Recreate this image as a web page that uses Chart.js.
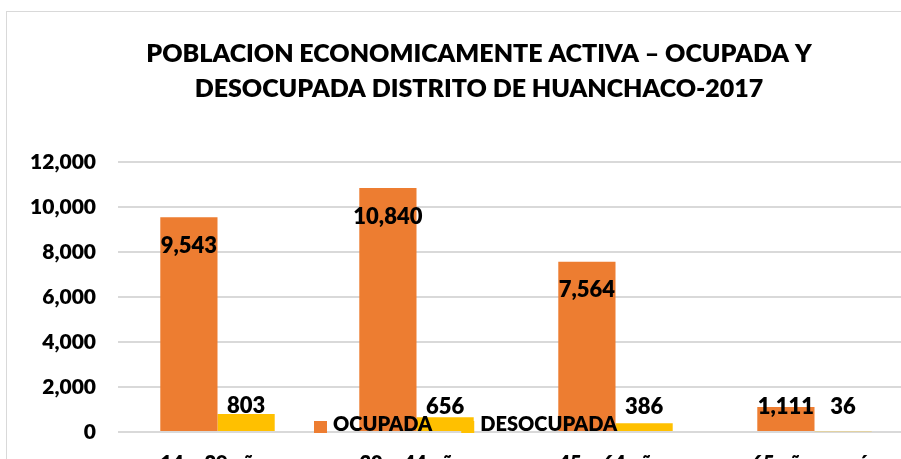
<!DOCTYPE html>
<html>
<head>
<meta charset="utf-8">
<script src="https://cdn.jsdelivr.net/npm/chart.js"></script>
<style>
body { margin: 0; overflow: hidden; background: #fff; }
#wrap { position: absolute; left: 6px; top: 11px; width: 944px; height: 500px; border: 1px solid #d9d9d9; }
</style>
</head>
<body>
<div id="wrap"><canvas id="pea" width="944" height="500"></canvas></div>
<script>
const titleLines = ['POBLACION ECONOMICAMENTE ACTIVA – OCUPADA Y', 'DESOCUPADA DISTRITO DE HUANCHACO-2017'];
const ageGroups = ['14 – 29 años', '30 – 44 años', '45 – 64 años', '65 años a más'];
const ocupada = [9543, 10840, 7564, 1111];
const desocupada = [803, 656, 386, 36];
const seriesNames = ['OCUPADA', 'DESOCUPADA'];
const yTicks = [0, 2000, 4000, 6000, 8000, 10000, 12000];

const fontFam = 'Lato, "Open Sans", sans-serif';
const heavy = '800';
const fmt = v => v.toLocaleString('en-US');

// value labels: ocupada inside the top, desocupada above
const valueLabels = {
  id: 'valueLabels',
  afterDatasetsDraw(chart) {
    const ctx = chart.ctx;
    const y = chart.scales.y;
    const floor = y.getPixelForValue(1100);
    ctx.save();
    ctx.font = heavy + ' 22px ' + fontFam;
    ctx.fillStyle = '#000';
    ctx.textAlign = 'center';
    ctx.textBaseline = 'middle';
    chart.data.datasets.forEach((ds, i) => {
      chart.getDatasetMeta(i).data.forEach((bar, j) => {
        const ly = i === 0 ? Math.min(bar.y + 28.5, floor) : Math.min(bar.y - 8, floor);
        ctx.fillText(fmt(ds.data[j]), bar.x, ly);
      });
    });
    ctx.restore();
  }
};

// legend sits over the bars near the baseline, like the original
const lowLegend = {
  id: 'lowLegend',
  afterDatasetsDraw(chart) {
    const ctx = chart.ctx;
    const base = chart.scales.y.getPixelForValue(0);
    ctx.save();
    ctx.font = heavy + ' 20px ' + fontFam;
    ctx.textBaseline = 'middle';
    let x = 307;
    chart.data.datasets.forEach(ds => {
      ctx.fillStyle = ds.backgroundColor;
      ctx.fillRect(x, base - 11, 13, 12);
      ctx.fillStyle = '#000';
      ctx.fillText(ds.label, x + 19, base - 7);
      x += 19 + ctx.measureText(ds.label).width + 29;
    });
    ctx.restore();
  }
};

new Chart(document.getElementById('pea'), {
  type: 'bar',
  data: {
    labels: ageGroups,
    datasets: [
      { label: seriesNames[0], data: ocupada, backgroundColor: '#ED7D31' },
      { label: seriesNames[1], data: desocupada, backgroundColor: '#FFC000' }
    ]
  },
  options: {
    responsive: false,
    animation: false,
    categoryPercentage: 0.575,
    barPercentage: 1,
    layout: { padding: { left: 0, right: 0, top: 0, bottom: 30 } },
    plugins: {
      legend: { display: false },
      tooltip: { enabled: false },
      title: {
        display: true,
        text: titleLines,
        color: '#000',
        font: { family: fontFam, size: 25, weight: heavy, lineHeight: 1.4 },
        padding: { top: 24, bottom: 56 }
      }
    },
    scales: {
      x: {
        grid: { display: false, drawTicks: false },
        border: { display: false },
        ticks: { color: '#000', padding: 20, font: { family: fontFam, size: 20, weight: heavy } },
        afterFit(s) { s.height = 50; }
      },
      y: {
        min: 0,
        max: 12000,
        afterBuildTicks(s) { s.ticks = yTicks.map(v => ({ value: v })); },
        grid: { color: '#d9d9d9', lineWidth: 2, drawTicks: false },
        border: { display: false },
        ticks: { color: '#000', padding: 22, font: { family: fontFam, size: 21, weight: heavy }, callback: v => fmt(v) },
        afterFit(s) { s.width = 111; }
      },
      // empty right gutter so the title stays centred on the whole frame
      gutter: {
        position: 'right',
        grid: { display: false, drawTicks: false },
        border: { display: false },
        ticks: { display: false },
        afterFit(s) { s.width = 37; }
      }
    }
  },
  plugins: [valueLabels, lowLegend]
});
</script>
</body>
</html>
